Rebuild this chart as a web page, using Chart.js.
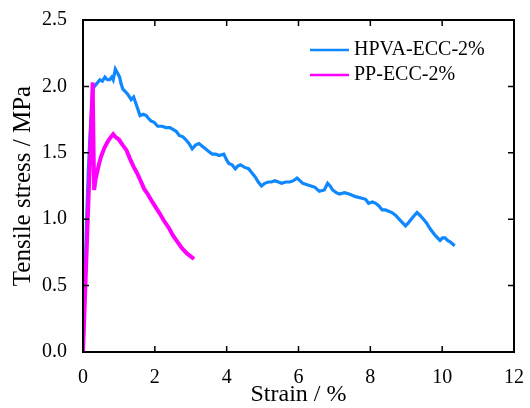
<!DOCTYPE html>
<html>
<head>
  <title>Tensile stress-strain</title>
  <style>
    body { margin: 0; background: #fff; }
    #wrap { width: 530px; height: 408px; }
  </style>
  <script src="https://cdn.jsdelivr.net/npm/chart.js"></script>
</head>
<body>
  <div id="wrap"><canvas id="stressChart" width="530" height="408"></canvas></div>
  <script>
    const seriesNames = ['HPVA-ECC-2%', 'PP-ECC-2%'];
    const seriesColors = ['#0F87FF', '#FF00FF'];

    const hpvaStrain = [0, 0.05, 0.1, 0.15, 0.2, 0.25, 0.29, 0.38, 0.47, 0.54, 0.61, 0.68, 0.74, 0.8, 0.84, 0.87, 0.9, 0.96,
      1.02, 1.06, 1.11, 1.18, 1.25, 1.34, 1.41, 1.46, 1.5, 1.55, 1.59, 1.68, 1.76, 1.82, 1.89, 1.98, 2.08, 2.2, 2.31, 2.42, 2.54,
      2.6, 2.68, 2.78, 2.86, 2.95, 3.04, 3.14, 3.23, 3.32, 3.41, 3.5, 3.6, 3.7, 3.78, 3.92, 4.01, 4.06, 4.15, 4.24, 4.31, 4.38,
      4.5, 4.61, 4.7, 4.79, 4.88, 4.97, 5.06, 5.16, 5.25, 5.34, 5.44, 5.53, 5.65, 5.76, 5.86, 5.96, 6.04, 6.12, 6.24, 6.35,
      6.46, 6.58, 6.72, 6.81, 6.88, 6.95, 7.05, 7.14, 7.28, 7.41, 7.59, 7.74, 7.87, 7.95, 8.06, 8.15, 8.24, 8.33, 8.42, 8.51,
      8.6, 8.7, 8.84, 8.98, 9.05, 9.11, 9.2, 9.3, 9.38, 9.48, 9.57, 9.66, 9.8, 9.94, 10.01, 10.08, 10.15, 10.22, 10.35];
    const hpvaStress = [0, 0.5, 1.0, 1.38, 1.66, 1.88, 1.99, 2.02, 2.05, 2.04, 2.07, 2.05, 2.05, 2.07, 2.05, 2.09, 2.13, 2.1,
      2.07, 2.02, 1.98, 1.96, 1.94, 1.9, 1.92, 1.88, 1.85, 1.81, 1.78, 1.79, 1.78, 1.76, 1.74, 1.73, 1.7, 1.7, 1.69, 1.69, 1.67,
      1.66, 1.63, 1.62, 1.6, 1.57, 1.53, 1.56, 1.57, 1.55, 1.53, 1.51, 1.49, 1.49, 1.48, 1.49, 1.44, 1.42, 1.41, 1.38, 1.4, 1.41,
      1.39, 1.38, 1.35, 1.32, 1.28, 1.25, 1.27, 1.28, 1.28, 1.29, 1.28, 1.27, 1.28, 1.28, 1.29, 1.31, 1.29, 1.27, 1.26, 1.25,
      1.24, 1.21, 1.22, 1.27, 1.25, 1.22, 1.2, 1.19, 1.2, 1.19, 1.17, 1.16, 1.15, 1.12, 1.13, 1.12, 1.1, 1.07, 1.07, 1.06,
      1.05, 1.03, 0.99, 0.95, 0.97, 0.99, 1.02, 1.05, 1.03, 1.0, 0.97, 0.93, 0.88, 0.84, 0.86, 0.86, 0.84, 0.83, 0.8];

    const ppStrain = [0, 0.1, 0.2, 0.27, 0.29, 0.31, 0.35, 0.4, 0.45, 0.5, 0.6, 0.7, 0.78, 0.84, 0.9, 1.0, 1.1, 1.21,
      1.3, 1.4, 1.5, 1.57, 1.7, 1.8, 1.93, 2.0, 2.12, 2.25, 2.4, 2.5, 2.6, 2.76, 2.9, 3.0, 3.09];
    const ppStress = [0, 0.75, 1.5, 2.03, 1.6, 1.22, 1.3, 1.36, 1.42, 1.47, 1.54, 1.59, 1.62, 1.64, 1.62, 1.6, 1.56, 1.52,
      1.46, 1.4, 1.35, 1.31, 1.23, 1.19, 1.13, 1.1, 1.05, 0.99, 0.93, 0.88, 0.84, 0.78, 0.74, 0.72, 0.7];

    const xTicks = [0, 2, 4, 6, 8, 10, 12];
    const yTicks = [0, 0.5, 1.0, 1.5, 2.0, 2.5];

    const toPoints = (xs, ys) => xs.map((x, i) => ({ x: x, y: ys[i] }));
    const serif = '"Liberation Serif", "Times New Roman", serif';

    // frame with inward ticks on all four sides, plus the legend inside the plot
    const framePlugin = {
      id: 'frame',
      afterDraw(chart) {
        const ctx = chart.ctx;
        const a = chart.chartArea;
        const xs = chart.scales.x, ys = chart.scales.y;
        ctx.save();
        ctx.strokeStyle = '#000';
        ctx.lineWidth = 2;
        ctx.strokeRect(a.left, a.top, a.right - a.left, a.bottom - a.top);
        ctx.lineWidth = 1.5;
        ctx.beginPath();
        xTicks.forEach(v => {
          const px = xs.getPixelForValue(v);
          ctx.moveTo(px, a.bottom); ctx.lineTo(px, a.bottom - 6);
          ctx.moveTo(px, a.top); ctx.lineTo(px, a.top + 6);
        });
        yTicks.forEach(v => {
          const py = ys.getPixelForValue(v);
          ctx.moveTo(a.left, py); ctx.lineTo(a.left + 6, py);
          ctx.moveTo(a.right, py); ctx.lineTo(a.right - 6, py);
        });
        ctx.stroke();

        // legend
        ctx.font = '20px ' + serif;
        ctx.textBaseline = 'middle';
        ctx.fillStyle = '#000';
        seriesNames.forEach((name, i) => {
          const y = a.top + 30 + i * 25;
          ctx.strokeStyle = seriesColors[i];
          ctx.lineWidth = 2.5;
          ctx.beginPath();
          ctx.moveTo(a.right - 204, y);
          ctx.lineTo(a.right - 165, y);
          ctx.stroke();
          ctx.fillText(name, a.right - 160, y);
        });
        ctx.restore();
      }
    };

    new Chart(document.getElementById('stressChart').getContext('2d'), {
      type: 'line',
      data: {
        datasets: [
          {
            label: seriesNames[0],
            data: toPoints(hpvaStrain, hpvaStress),
            borderColor: seriesColors[0],
            borderWidth: 3.2,
            pointRadius: 0,
            tension: 0,
            order: 1,
          },
          {
            label: seriesNames[1],
            data: toPoints(ppStrain, ppStress),
            borderColor: seriesColors[1],
            borderWidth: 4,
            pointRadius: 0,
            tension: 0,
            order: 0,
          },
        ],
      },
      options: {
        responsive: false,
        animation: false,
        layout: { padding: { left: 0, top: 20, right: 12, bottom: 0 } },
        plugins: { legend: { display: false }, tooltip: { enabled: false } },
        scales: {
          x: {
            type: 'linear',
            min: 0, max: 12,
            afterBuildTicks: s => { s.ticks = xTicks.map(v => ({ value: v })); },
            afterFit: s => { s.height = 56; },
            grid: { display: false },
            border: { display: false },
            ticks: { color: '#000', font: { family: serif, size: 20 }, padding: 6, maxRotation: 0 },
            title: { display: true, text: 'Strain / %', color: '#000', font: { family: serif, size: 24, lineHeight: 1 }, padding: { top: 0, bottom: 1 } },
          },
          y: {
            min: 0, max: 2.5,
            afterBuildTicks: s => { s.ticks = yTicks.map(v => ({ value: v })); },
            afterFit: s => { s.width = 83; },
            grid: { display: false },
            border: { display: false },
            ticks: { color: '#000', font: { family: serif, size: 20 }, padding: 8, callback: v => v.toFixed(1) },
            title: { display: true, text: 'Tensile stress / MPa', color: '#000', font: { family: serif, size: 25, lineHeight: 1 }, padding: { top: 11, bottom: 0 } },
          },
        },
      },
      plugins: [framePlugin],
    });
  </script>
</body>
</html>
